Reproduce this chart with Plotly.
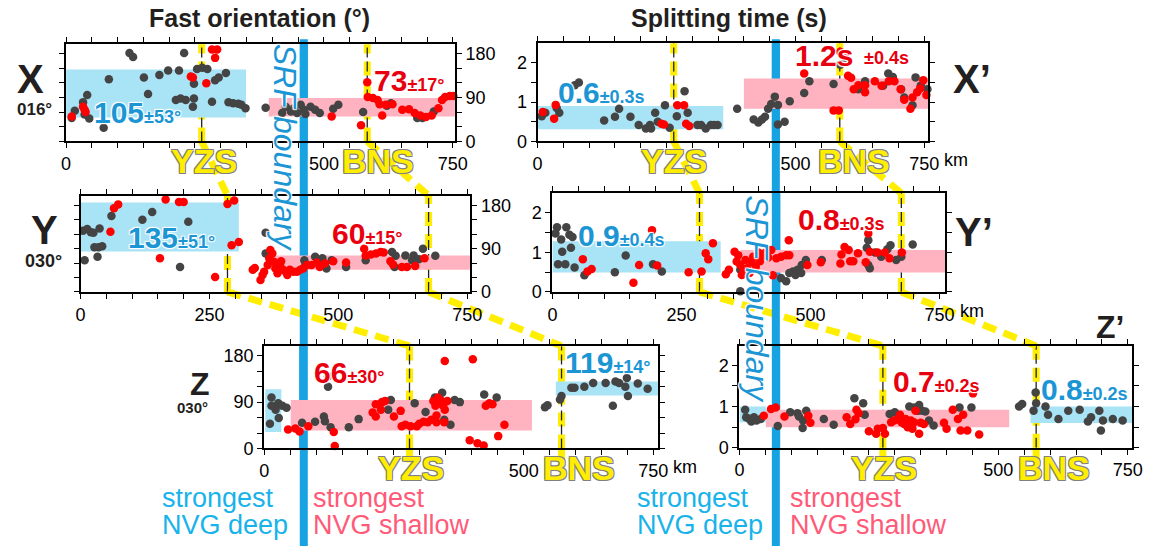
import plotly.graph_objects as go

W, H = 1162, 556

# ---------------- data (distance km, fast orientation deg / splitting time s) ----------------
X_gray_km = [11,17,33,41,36,45,73,83,123,130,151,159,181,198,219,229,213,222,232,246,248,248,254,264,274,283,289,296,310,315,324,334,340,348,387,419,426,436,442,448,455,461,464,474,483,492,518,528,576,622,630,681,691,713]
X_gray_phi = [48,63,80,95,55,47,28,127,181,173,131,97,136,145,145,181,85,88,85,71,88,118,148,151,148,81,125,131,140,80,78,77,75,68,69,58,71,61,68,58,75,65,56,71,65,58,67,75,60,73,78,48,48,61]
X_red_km = [11,33,36,38,242,246,272,283,293,289,515,572,584,585,595,604,608,613,620,633,652,665,676,687,698,709,722,729,735,744,751]
X_red_phi = [51,71,65,60,133,131,119,188,188,171,51,33,121,91,89,85,76,53,75,76,65,66,58,53,50,53,68,85,91,93,93]

Xp_gray_km = [8,15,37,42,72,80,129,150,158,180,196,210,218,220,228,233,247,256,270,285,291,310,317,326,336,342,349,387,419,428,435,441,447,453,460,466,466,479,489,517,527,574,587,597,622,635,670,680,689,705,711,727,733,743,756]
Xp_gray_dt = [0.64,0.73,0.85,0.73,1.43,1.5,0.53,0.63,0.83,0.63,0.42,0.33,0.42,0.33,0.73,0.5,0.92,0.35,0.64,1.28,0.73,0.42,0.42,0.33,0.42,0.42,0.42,0.83,0.56,0.48,0.56,0.63,0.83,0.95,1.14,0.93,0.43,0.5,1.02,1.23,1.53,1.46,1.95,2.03,1.33,1.53,1.42,1.73,1.64,1.33,1.12,0.92,1.63,1.42,1.33]
Xp_red_km = [10,32,35,240,245,271,284,288,294,517,574,584,587,595,602,608,613,622,635,635,654,667,681,692,704,711,723,727,736,742,748,754]
Xp_red_dt = [0.75,0.58,0.93,0.45,0.43,0.92,0.92,0.45,0.39,1.73,0.79,0.79,2.28,2.18,1.67,1.62,1.33,1.43,1.43,1.25,1.53,1.42,1.53,1.53,1.33,1.06,0.83,1.12,1.25,1.35,1.56,1.18]

Y_gray_km = [5,8,13,20,25,27,33,37,35,42,60,120,139,193,209,359,359,434,436,455,464,469,477,487,515,553,604,609,611,630,646,643,656,664,688]
Y_gray_phi = [127,66,131,124,123,93,73,132,93,95,158,150,166,52,146,123,80,66,56,73,64,70,49,66,52,66,83,52,75,76,76,66,68,90,75]
Y_red_km = [58,65,73,154,165,191,200,261,285,298,293,307,334,338,349,353,356,363,366,368,372,375,378,382,387,389,393,398,401,406,413,420,426,432,439,448,458,464,474,490,515,550,553,563,573,582,588,601,606,623,633,649,667]
Y_red_phi = [125,174,182,70,192,187,187,31,183,190,97,104,46,50,25,35,42,56,70,87,80,63,49,39,56,64,46,42,35,46,42,42,46,49,56,56,61,52,59,64,61,90,76,78,80,83,82,64,57,52,52,54,70]

Yp_gray_km = [6,9,11,17,19,27,25,33,36,39,43,62,121,142,195,212,364,364,443,453,459,466,471,475,482,483,491,522,612,609,612,615,625,637,649,655,666,676,698]
Yp_gray_dt = [1.48,1.64,0.7,1.33,1.02,1.64,0.7,1.45,1.12,1.39,0.62,0.42,0.5,0.92,0.7,0.52,0.02,0.56,0.35,0.27,0.48,0.52,0.43,0.56,0.48,0.68,0.81,0.81,1.31,1.12,0.68,0.6,1.0,0.89,1.08,1.18,0.81,0.89,1.2]
Yp_red_km = [59,68,76,157,168,193,203,264,289,297,302,311,336,342,353,357,360,364,367,370,374,377,382,386,389,394,399,402,407,413,418,424,427,434,443,453,458,459,494,520,558,560,566,574,577,583,592,607,612,615,630,644,653,677]
Yp_red_dt = [0.83,0.52,0.58,0.23,0.68,1.56,0.67,0.5,0.52,0.98,0.83,1.23,0.45,0.56,1.02,0.77,0.93,0.68,0.43,0.52,0.81,0.6,0.48,0.75,0.89,0.64,1.0,0.78,0.93,1.0,0.87,1.06,0.42,0.85,0.89,0.93,1.31,0.93,0.68,0.75,0.72,0.95,1.14,1.06,0.78,0.78,0.98,0.75,1.48,1.02,1.0,1.0,0.85,1.0]

Z_gray_km = [11,14,14,22,27,28,35,43,73,98,115,117,123,123,128,163,182,239,244,290,311,329,343,347,359,367,377,424,448,541,546,570,573,592,598,617,634,658,677,684,696,699,701,672,720,739]
Z_gray_phi = [48,99,83,75,88,59,83,79,50,52,62,53,140,120,41,41,57,75,94,88,71,99,108,56,46,94,90,105,99,80,84,95,102,118,118,120,127,127,130,127,120,137,102,83,126,116]
Z_red_km = [46,60,68,85,134,136,209,215,215,225,227,233,250,263,265,272,282,294,299,307,315,322,326,330,332,332,335,337,342,345,348,348,353,347,396,402,411,423,427,434,440,451,463]
Z_red_phi = [37,39,33,43,32,5,70,62,86,75,90,92,62,73,43,46,43,43,48,52,51,56,92,83,64,51,99,88,92,83,170,75,92,51,16,173,10,6,83,88,86,24,46]

Zp_gray_km = [11,13,19,23,28,33,41,74,98,112,115,123,122,129,163,182,222,239,242,290,300,328,337,347,345,353,359,366,375,425,448,540,546,568,572,573,591,596,616,635,657,673,679,695,698,702,721,740]
Zp_gray_dt = [0.92,0.74,0.7,0.64,0.74,0.66,0.7,0.53,0.86,0.84,0.76,0.66,0.48,0.9,0.7,0.56,1.2,1.08,0.8,0.82,0.86,1.0,0.98,1.04,0.9,0.9,0.88,0.66,0.54,0.98,0.98,1.0,1.06,0.9,1.34,1.08,1.0,0.8,0.7,0.9,0.92,0.64,0.74,0.9,0.42,0.66,0.7,0.66]
Zp_red_km = [47,61,70,87,133,137,207,214,224,226,230,250,264,267,281,277,293,299,305,310,313,318,321,325,328,331,334,337,340,347,350,356,395,400,412,422,427,432,440,451,463]
Zp_red_dt = [0.78,0.94,0.98,0.76,0.78,0.61,0.74,0.58,0.69,0.92,0.84,0.4,0.34,0.46,0.34,0.48,0.62,0.66,0.7,0.8,0.62,0.58,0.7,0.5,0.56,0.66,0.46,0.62,0.9,0.34,0.61,0.58,0.61,0.46,0.92,0.7,0.42,0.8,0.42,1.32,0.32]

# bands: [start km, end km, low, high]
X_bands_deep = [[0, 349, 49, 147]]
X_bands_shallow = [[393, 754, 51, 89]]
Xp_bands_deep = [[0, 360, 0.31, 0.9]]
Xp_bands_shallow = [[400, 759, 0.83, 1.6]]
Y_bands_deep = [[0, 307, 84, 186]]
Y_bands_shallow = [[359, 756, 46, 76]]
Yp_bands_deep = [[0, 326, 0.49, 1.28]]
Yp_bands_shallow = [[364, 765, 0.49, 1.06]]
Z_bands_deep = [[2, 33, 32, 115], [562, 760, 103, 130]]
Z_bands_shallow = [[51, 516, 35, 94]]
Zp_bands_deep = [[0, 51, 0.62, 1.0], [562, 760, 0.6, 1.0]]
Zp_bands_shallow = [[51, 521, 0.5, 0.92]]

# structure positions along each profile (km)
YZS_km = {'X': 263, 'Xp': 264, 'Y': 285, 'Yp': 285, 'Z': 280, 'Zp': 277}
BNS_km = {'X': 584, 'Xp': 586, 'Y': 675, 'Yp': 676, 'Z': 573, 'Zp': 573}
SRF_km = {'X': 461, 'Xp': 462, 'Y': 433, 'Yp': 434, 'Z': 75, 'Zp': 71}

# tick labels
deg_ticks = [0, 30, 60, 90, 120, 150, 180]
deg_text = ['0', '', '', '90', '', '', '180']
dt_ticks = [0, 0.5, 1, 1.5, 2]
dt_text = ['0', '', '1', '', '2']
km_ticks = list(range(0, 751, 50))
km_text_full = {0: '0', 250: '250', 500: '500', 750: '750'}
km_text_short = {0: '0', 500: '500', 750: '750'}

# ---------------- layout of panels (pixel boxes) ----------------
panels = [
    ('X',  (62, 457),   (45, 144),    754, 199, 'right', 'deg', km_text_short),
    ('Xp', (541, 938),  (44, 144),    758, 2.5, 'left',  'dt',  km_text_short),
    ('Y',  (76.7, 472.7), (199.3, 297.3), 756, 200, 'right', 'deg', km_text_full),
    ('Yp', (556, 955),  (196.7, 297.3), 761, 2.5, 'left',  'dt',  km_text_full),
    ('Z',  (263.3, 663.3), (352.3, 456.7), 759, 199, 'left', 'deg', km_text_short),
    ('Zp', (746, 1145), (352.3, 456), 758.6, 2.47, 'left', 'dt',  km_text_short),
]
series = {
    'X': (X_gray_km, X_gray_phi, X_red_km, X_red_phi, X_bands_deep, X_bands_shallow),
    'Xp': (Xp_gray_km, Xp_gray_dt, Xp_red_km, Xp_red_dt, Xp_bands_deep, Xp_bands_shallow),
    'Y': (Y_gray_km, Y_gray_phi, Y_red_km, Y_red_phi, Y_bands_deep, Y_bands_shallow),
    'Yp': (Yp_gray_km, Yp_gray_dt, Yp_red_km, Yp_red_dt, Yp_bands_deep, Yp_bands_shallow),
    'Z': (Z_gray_km, Z_gray_phi, Z_red_km, Z_red_phi, Z_bands_deep, Z_bands_shallow),
    'Zp': (Zp_gray_km, Zp_gray_dt, Zp_red_km, Zp_red_dt, Zp_bands_deep, Zp_bands_shallow),
}

FONT = 'Liberation Sans, Arial, Helvetica, sans-serif'
BLUE_BAND = '#a9e3f6'
PINK_BAND = '#ffb3c0'
GRAY = '#444444'
RED = '#ff0000'
YEL = '#ffee00'
SRF_BLUE = '#17a2e2'
TXT_BLUE = '#1b95d4'
TXT_RED = '#e8000f'

fig = go.Figure()
layout = dict(width=W, height=H, margin=dict(l=0, r=0, t=0, b=0),
              paper_bgcolor='white', plot_bgcolor='rgba(0,0,0,0)',
              showlegend=False, font=dict(family=FONT, color='black'))
shapes = []
annotations = []
geom = {}

for i, (key, (px0, px1), (py0, py1), xmax, ymax, side, kind, ktext) in enumerate(panels):
    n = '' if i == 0 else str(i + 1)
    geom[key] = dict(n=n, px=(px0, px1), py=(py0, py1), xmax=xmax)
    layout['xaxis' + n] = dict(
        domain=[px0 / W, px1 / W], range=[0, xmax], anchor='y' + n,
        tickvals=km_ticks, ticktext=[ktext.get(v, '') for v in km_ticks],
        ticks='outside', ticklen=5, tickwidth=1.2, tickcolor='black',
        showline=True, linewidth=2, linecolor='black', mirror='allticks',
        showgrid=False, zeroline=False, tickfont=dict(size=18, color='black'))
    tv, tt = (deg_ticks, deg_text) if kind == 'deg' else (dt_ticks, dt_text)
    layout['yaxis' + n] = dict(
        domain=[1 - py1 / H, 1 - py0 / H], range=[0, ymax], anchor='x' + n, side=side,
        tickvals=tv, ticktext=tt,
        ticks='outside', ticklen=5, tickwidth=1.2, tickcolor='black',
        showline=True, linewidth=2, linecolor='black', mirror='allticks',
        showgrid=False, zeroline=False, tickfont=dict(size=18, color='black'))

    gkm, gv, rkm, rv, bdeep, bshal = series[key]
    xr, yr, yd = 'x' + n, 'y' + n, 'y' + n + ' domain'
    for b in bdeep:
        shapes.append(dict(type='rect', xref=xr, yref=yr, x0=b[0], x1=b[1], y0=b[2], y1=b[3],
                           fillcolor=BLUE_BAND, line=dict(width=0), layer='below'))
    for b in bshal:
        shapes.append(dict(type='rect', xref=xr, yref=yr, x0=b[0], x1=b[1], y0=b[2], y1=b[3],
                           fillcolor=PINK_BAND, line=dict(width=0), layer='below'))
    for km in (YZS_km[key], BNS_km[key]):
        shapes.append(dict(type='line', xref=xr, yref=yd, x0=km, x1=km, y0=0, y1=1,
                           line=dict(color=YEL, width=7, dash='14px,8px'), layer='below'))
    shapes.append(dict(type='line', xref=xr, yref=yd, x0=SRF_km[key], x1=SRF_km[key], y0=0, y1=1,
                       line=dict(color=SRF_BLUE, width=8), layer='below'))
    for km in (YZS_km[key], BNS_km[key], SRF_km[key]):
        shapes.append(dict(type='line', xref=xr, yref=yd, x0=km, x1=km, y0=0, y1=1,
                           line=dict(color='#222222', width=1.3, dash='10px,4px'), layer='below'))

    fig.add_trace(go.Scatter(x=gkm, y=gv, mode='markers', xaxis=xr, yaxis=yr, cliponaxis=False,
                             marker=dict(color=GRAY, size=8.5), hoverinfo='skip'))
    fig.add_trace(go.Scatter(x=rkm, y=rv, mode='markers', xaxis=xr, yaxis=yr, cliponaxis=False,
                             marker=dict(color=RED, size=8.5), hoverinfo='skip'))


def paper_pt(key, km, where):
    g = geom[key]
    px0, px1 = g['px']
    x = (px0 + km / g['xmax'] * (px1 - px0)) / W
    py = g['py'][0] if where == 'top' else g['py'][1]
    return x, 1 - py / H


# yellow dashed connectors between panels
for chain in (['X', 'Y', 'Z'], ['Xp', 'Yp', 'Zp']):
    for pos in (YZS_km, BNS_km):
        segs = []
        for a, b in zip(chain[:-1], chain[1:]):
            p0 = paper_pt(a, pos[a], 'bottom')
            p1 = paper_pt(b, pos[b], 'top')
            segs.append(f'M {p0[0]:.5f},{p0[1]:.5f} L {p1[0]:.5f},{p1[1]:.5f}')
        last = chain[-1]
        p0 = paper_pt(last, pos[last], 'bottom')
        segs.append(f'M {p0[0]:.5f},{p0[1]:.5f} L {p0[0]:.5f},{p0[1] - 16 / H:.5f}')
        shapes.append(dict(type='path', xref='paper', yref='paper', path=' '.join(segs),
                           line=dict(color=YEL, width=7, dash='14px,8px'), layer='below'))

# SRF boundary full-height blue lines
for key in ('X', 'Xp'):
    n = geom[key]['n']
    shapes.append(dict(type='line', xref='x' + n, yref='paper', x0=SRF_km[key], x1=SRF_km[key],
                       y0=1 - 40 / H, y1=0, line=dict(color=SRF_BLUE, width=8), layer='below'))


def ann(text, x, y, size, color='black', bold=False, xanchor='center', yanchor='middle', **kw):
    f = dict(size=size, color=color, family=FONT)
    if bold:
        f['weight'] = 'bold'
    f.update(kw.pop('font', {}))
    d = dict(x=x / W, y=1 - y / H, xref='paper', yref='paper', text=text, showarrow=False,
             font=f, xanchor=xanchor, yanchor=yanchor)
    d.update(kw)
    return d


halo = '1px 1px 1px white, -1px -1px 1px white, 1px -1px 1px white, -1px 1px 1px white'
outline = '1px 1px 0 #808080, -1px -1px 0 #808080, 1px -1px 0 #808080, -1px 1px 0 #808080'

annotations += [
    ann('Fast orientation (°)', 258, 18, 25, '#231f20', True),
    ann('Splitting time (s)', 735, 18, 25, '#231f20', True),
    ann('X', 26, 80, 40, '#231f20', True),
    ann('016°', 30, 111, 17, '#231f20', True),
    ann('X’', 982, 80, 40, '#231f20', True),
    ann('Y', 40, 234, 40, '#231f20', True),
    ann('030°', 39, 266, 18, '#231f20', True),
    ann('Y’', 984, 236, 40, '#231f20', True),
    ann('Z', 198, 391, 32, '#231f20', True),
    ann('030°', 190, 415, 15, '#231f20', True),
    ann('Z’', 1122, 333, 32, '#231f20', True),
]

value_labels = [
    ('105', '±53°', TXT_BLUE, 88, 115),
    ('73', '±17°', TXT_RED, 373, 82),
    ('0.6', '±0.3s', TXT_BLUE, 560, 94),
    ('1.2s', '', TXT_RED, 800, 57),
    ('', '±0.4s', TXT_RED, 870, 59),
    ('135', '±51°', TXT_BLUE, 123, 242),
    ('60', '±15°', TXT_RED, 330, 238),
    ('0.9', '±0.4s', TXT_BLUE, 580, 240),
    ('0.8', '±0.3s', TXT_RED, 803, 224),
    ('66', '±30°', TXT_RED, 312, 379),
    ('119', '±14°', TXT_BLUE, 567, 369),
    ('0.7', '±0.2s', TXT_RED, 900, 388),
    ('0.8', '±0.2s', TXT_BLUE, 1050, 397),
]
for big, small, col, x, y in value_labels:
    txt = ''
    if big:
        txt += f'<b>{big}</b>'
    if small:
        txt += f"<span style='font-size:18px'><b>{small}</b></span>"
    annotations.append(ann(txt, x, y, 30, col, False, xanchor='left', font=dict(shadow=halo)))

fault_labels = [('YZS', 202, 164), ('BNS', 379, 164), ('YZS', 680, 164), ('BNS', 862, 164),
                ('YZS', 412, 477), ('BNS', 583, 477), ('YZS', 893, 477), ('BNS', 1065, 477)]
for t, x, y in fault_labels:
    annotations.append(ann(t, x, y, 34, YEL, True, font=dict(shadow=outline)))

annotations.append(ann('SRF boundary', 284, 150, 32, TXT_BLUE, textangle=90,
                       font=dict(style='italic', shadow=halo)))
annotations.append(ann('SRF boundary', 764, 305, 32, TXT_BLUE, textangle=90,
                       font=dict(style='italic', shadow=halo)))

for x0, col, lines in ((157, '#18b3ea', ('strongest', 'NVG deep')),
                       (311, '#ff5a78', ('strongest', 'NVG shallow')),
                       (640, '#18b3ea', ('strongest', 'NVG deep')),
                       (795, '#ff5a78', ('strongest', 'NVG shallow'))):
    annotations.append(ann(lines[0], x0, 507, 27, col, xanchor='left'))
    annotations.append(ann(lines[1], x0, 535, 27, col, xanchor='left'))

# "km" units after the 750 tick label
for key in ('Xp', 'Yp', 'Z'):
    n = geom[key]['n']
    annotations.append(dict(xref='x' + n, yref='y' + n + ' domain', x=750, y=0, text='km',
                            showarrow=False, xanchor='left', yanchor='top', xshift=18, yshift=-7,
                            font=dict(size=18, color='black', family=FONT)))

layout['shapes'] = shapes
layout['annotations'] = annotations
fig.update_layout(**layout)
fig.write_html('out.html')
